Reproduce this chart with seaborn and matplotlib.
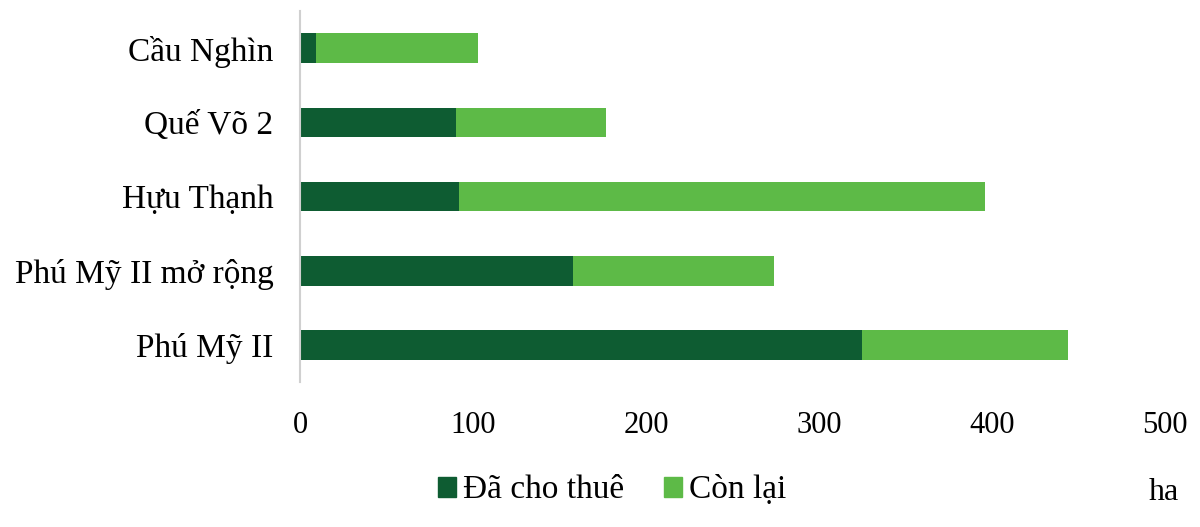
import pandas as pd
import matplotlib.pyplot as plt
import seaborn as sns
from matplotlib.patches import Patch

# Data (ha)
parks = ['Cầu Nghìn', 'Quế Võ 2', 'Hựu Thạnh', 'Phú Mỹ II mở rộng', 'Phú Mỹ II']
leased = [9, 90, 92, 158, 325]
remaining = [94, 87, 304, 116, 119]
x_ticks = [0, 100, 200, 300, 400, 500]

DARK = '#0e5c32'
LIGHT = '#5dba47'

sns.set_theme(style="white")
plt.rcParams['font.family'] = ['Liberation Serif', 'DejaVu Serif']
plt.rcParams['text.color'] = 'black'

df = pd.DataFrame({'Park': parks, 'Leased': leased, 'Remaining': remaining})
df['Total'] = df['Leased'] + df['Remaining']

fig = plt.figure(figsize=(12, 5.27), dpi=100)
ax = fig.add_axes([0.25, 0.275, 0.721, 0.704])

# total bar (light) first, leased part (dark) drawn on top
sns.barplot(data=df, x='Total', y='Park', color=LIGHT, saturation=1, width=0.4,
            linewidth=0, ax=ax)
sns.barplot(data=df, x='Leased', y='Park', color=DARK, saturation=1, width=0.4,
            linewidth=0, ax=ax)

ax.set_xlim(0, 500)
ax.set_xticks(x_ticks)
ax.set_xlabel('')
ax.set_ylabel('')
ax.tick_params(axis='both', length=0, colors='black')
ax.tick_params(axis='x', pad=21, labelsize=22)
ax.tick_params(axis='y', pad=19, labelsize=24)

for s in ['top', 'right', 'bottom']:
    ax.spines[s].set_visible(False)
ax.spines['left'].set_color('#d0d0d0')
ax.spines['left'].set_linewidth(1.5)

handles = [Patch(color=DARK, label='Đã cho thuê'), Patch(color=LIGHT, label='Còn lại')]
fig.legend(handles=handles, loc='center', bbox_to_anchor=(0.51, 0.07), ncol=2,
           frameon=False, fontsize=24, handlelength=0.55, handleheight=0.55,
           handletextpad=0.2, columnspacing=1.2, labelcolor='black')

fig.text(0.97, 0.065, 'ha', ha='center', va='center', fontsize=23, color='black')

plt.savefig('out.png', dpi=100)
